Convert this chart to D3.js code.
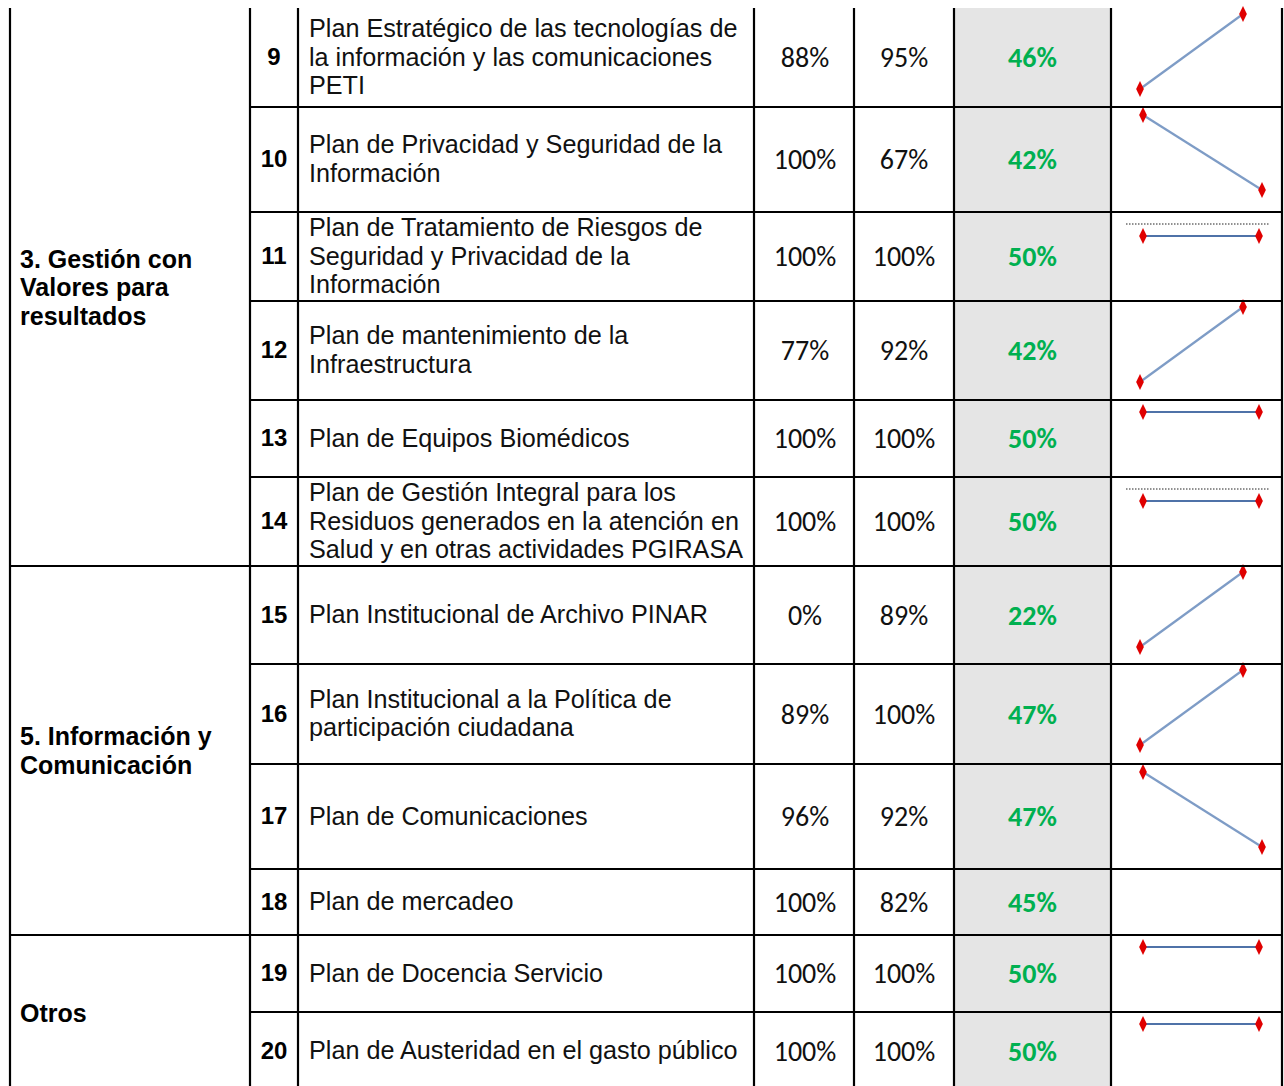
<!DOCTYPE html>
<html>
<head>
<meta charset="utf-8">
<script src="https://cdn.jsdelivr.net/npm/d3@7"></script>
<style>
  html, body { margin: 0; padding: 0; background: #fff; }
  svg { display: block; }
</style>
</head>
<body>
<svg id="chart" width="1284" height="1086"></svg>
<script>
// ---------- data ----------
const numbers = [9, 10, 11, 12, 13, 14, 15, 16, 17, 18, 19, 20];
const plans = [
  "Plan Estratégico de las tecnologías de\nla información y las comunicaciones\nPETI",
  "Plan de Privacidad y Seguridad de la\nInformación",
  "Plan de Tratamiento de Riesgos de\nSeguridad y Privacidad de la\nInformación",
  "Plan de mantenimiento de la\nInfraestructura",
  "Plan de Equipos Biomédicos",
  "Plan de Gestión Integral para los\nResiduos generados en la atención en\nSalud y en otras actividades PGIRASA",
  "Plan Institucional de Archivo PINAR",
  "Plan Institucional a la Política de\nparticipación ciudadana",
  "Plan de Comunicaciones",
  "Plan de mercadeo",
  "Plan de Docencia Servicio",
  "Plan de Austeridad en el gasto público"
];
const valuesA = [88, 100, 100, 77, 100, 100, 0, 89, 96, 100, 100, 100];
const valuesB = [95, 67, 100, 92, 100, 100, 89, 100, 92, 82, 100, 100];
const valuesC = [46, 42, 50, 42, 50, 50, 22, 47, 47, 45, 50, 50];
const hasSparkline = [true, true, true, true, true, true, true, true, true, false, true, true];
const groups = ["3. Gestión con\nValores para\nresultados", "5. Información y\nComunicación", "Otros"];
const groupRowCounts = [6, 4, 2];

// ---------- layout ----------
const rowHeights = [99, 105, 89, 99, 77, 89, 98, 100, 105, 66, 77, 78];
const tableTop = 8;
const colX = [10, 250, 298, 754, 854, 954, 1111, 1282];
const SANS = '"Liberation Sans", Arimo, Arial, sans-serif';
const CAL = 'Carlito, Calibri, Lato, sans-serif';

const svg = d3.select("#chart");
const rowTops = [];
let acc = tableTop;
rowHeights.forEach(h => { rowTops.push(acc); acc += h; });
const tableBottom = acc;

const rows = numbers.map((n, i) => ({
  n, plan: plans[i], a: valuesA[i], b: valuesB[i], c: valuesC[i],
  spark: hasSparkline[i], top: rowTops[i], h: rowHeights[i]
}));

const pct = v => d3.format("d")(v) + "%";

// gray column
svg.append("rect")
  .attr("x", colX[5]).attr("y", tableTop)
  .attr("width", colX[6] - colX[5]).attr("height", tableBottom - tableTop)
  .attr("fill", "#e5e5e5");

// sparklines
const sparkG = svg.append("g");
rows.forEach(r => {
  if (!r.spark) return;
  const g = sparkG.append("g");
  const vals = [r.a, r.b];
  const flat = r.a === r.b;
  const rising = r.b > r.a;
  const x = d3.scaleLinear().domain([0, 1])
    .range(rising ? [1140, 1243] : (flat ? [1143, 1259] : [1143, 1262]));
  let y;
  if (flat) {
    const ly = r.top + (r.h > 85 ? 24 : 12);
    y = d3.scaleLinear().domain([r.a - 1, r.a + 1]).range([ly + 1, ly - 1]);
    g.append("line")
      .attr("x1", 1126).attr("x2", 1269)
      .attr("y1", ly - 12).attr("y2", ly - 12)
      .attr("stroke", "#222").attr("stroke-width", 1)
      .attr("stroke-dasharray", "1.5,1.5");
  } else {
    const off = rising ? 6 : 8;
    y = d3.scaleLinear().domain(d3.extent(vals))
      .range([r.top + off + 75, r.top + off]);
  }
  const line = d3.line().x((d, i) => x(i)).y(d => y(d));
  g.append("path")
    .attr("d", line(vals))
    .attr("fill", "none")
    .attr("stroke", flat ? "#4f72a8" : "#7e9cc6")
    .attr("stroke-width", 2.2);
  g.selectAll("path.m").data(vals).enter().append("path")
    .attr("class", "m")
    .attr("d", d3.symbol().type(d3.symbolDiamond).size(52))
    .attr("transform", (d, i) => `translate(${x(i)},${y(d)}) scale(1,1.2)`)
    .attr("fill", "#e00000");
});

// borders
const border = svg.append("g").attr("stroke", "#000").attr("stroke-width", 2.2);
colX.forEach(cx => {
  border.append("line").attr("x1", cx).attr("x2", cx)
    .attr("y1", tableTop).attr("y2", tableBottom);
});
let cum = 0;
const groupBoundaries = [];
groupRowCounts.forEach(c => { cum += c; groupBoundaries.push(cum); });
rows.forEach((r, i) => {
  if (i === 0) return;
  const isGroup = groupBoundaries.includes(i);
  border.append("line")
    .attr("x1", isGroup ? colX[0] : colX[1]).attr("x2", colX[7])
    .attr("y1", r.top).attr("y2", r.top);
});

// text
const lineH = 28.5;
function multiline(sel, text, x, cy, anchor) {
  const lines = text.split("\n");
  const t = sel.append("text")
    .attr("x", x).attr("text-anchor", anchor)
    .attr("dominant-baseline", "central");
  lines.forEach((ln, k) => {
    t.append("tspan").attr("x", x)
      .attr("y", cy + (k - (lines.length - 1) / 2) * lineH)
      .text(ln);
  });
  return t;
}

const txt = svg.append("g");
rows.forEach(r => {
  const cy = r.top + r.h / 2 - 1;
  txt.append("text").style("font-family", SANS)
    .attr("x", (colX[1] + colX[2]) / 2).attr("y", cy)
    .attr("text-anchor", "middle").attr("dominant-baseline", "central")
    .attr("font-weight", "bold").attr("font-size", 24)
    .text(r.n);
  multiline(txt, r.plan, colX[2] + 11, cy, "start")
    .style("font-family", SANS).attr("font-size", 25.2).attr("fill", "#111");
  txt.append("text").style("font-family", CAL)
    .attr("x", (colX[3] + colX[4]) / 2 + 1).attr("y", cy + 1)
    .attr("text-anchor", "middle").attr("dominant-baseline", "central")
    .attr("font-size", 28).attr("fill", "#111")
    .text(pct(r.a));
  txt.append("text").style("font-family", CAL)
    .attr("x", (colX[4] + colX[5]) / 2).attr("y", cy + 1)
    .attr("text-anchor", "middle").attr("dominant-baseline", "central")
    .attr("font-size", 28).attr("fill", "#111")
    .text(pct(r.b));
  txt.append("text").style("font-family", CAL)
    .attr("x", (colX[5] + colX[6]) / 2).attr("y", cy + 1)
    .attr("text-anchor", "middle").attr("dominant-baseline", "central")
    .attr("font-weight", "bold").attr("font-size", 28)
    .attr("fill", "#00b050")
    .text(pct(r.c));
});

// group labels
let startIdx = 0;
groups.forEach((gname, k) => {
  const endIdx = startIdx + groupRowCounts[k];
  const top = rowTops[startIdx];
  const bottom = endIdx < rows.length ? rowTops[endIdx] : tableBottom;
  multiline(txt, gname, 20, (top + bottom) / 2, "start")
    .style("font-family", SANS).attr("font-weight", "bold").attr("font-size", 25);
  startIdx = endIdx;
});
</script>
</body>
</html>
